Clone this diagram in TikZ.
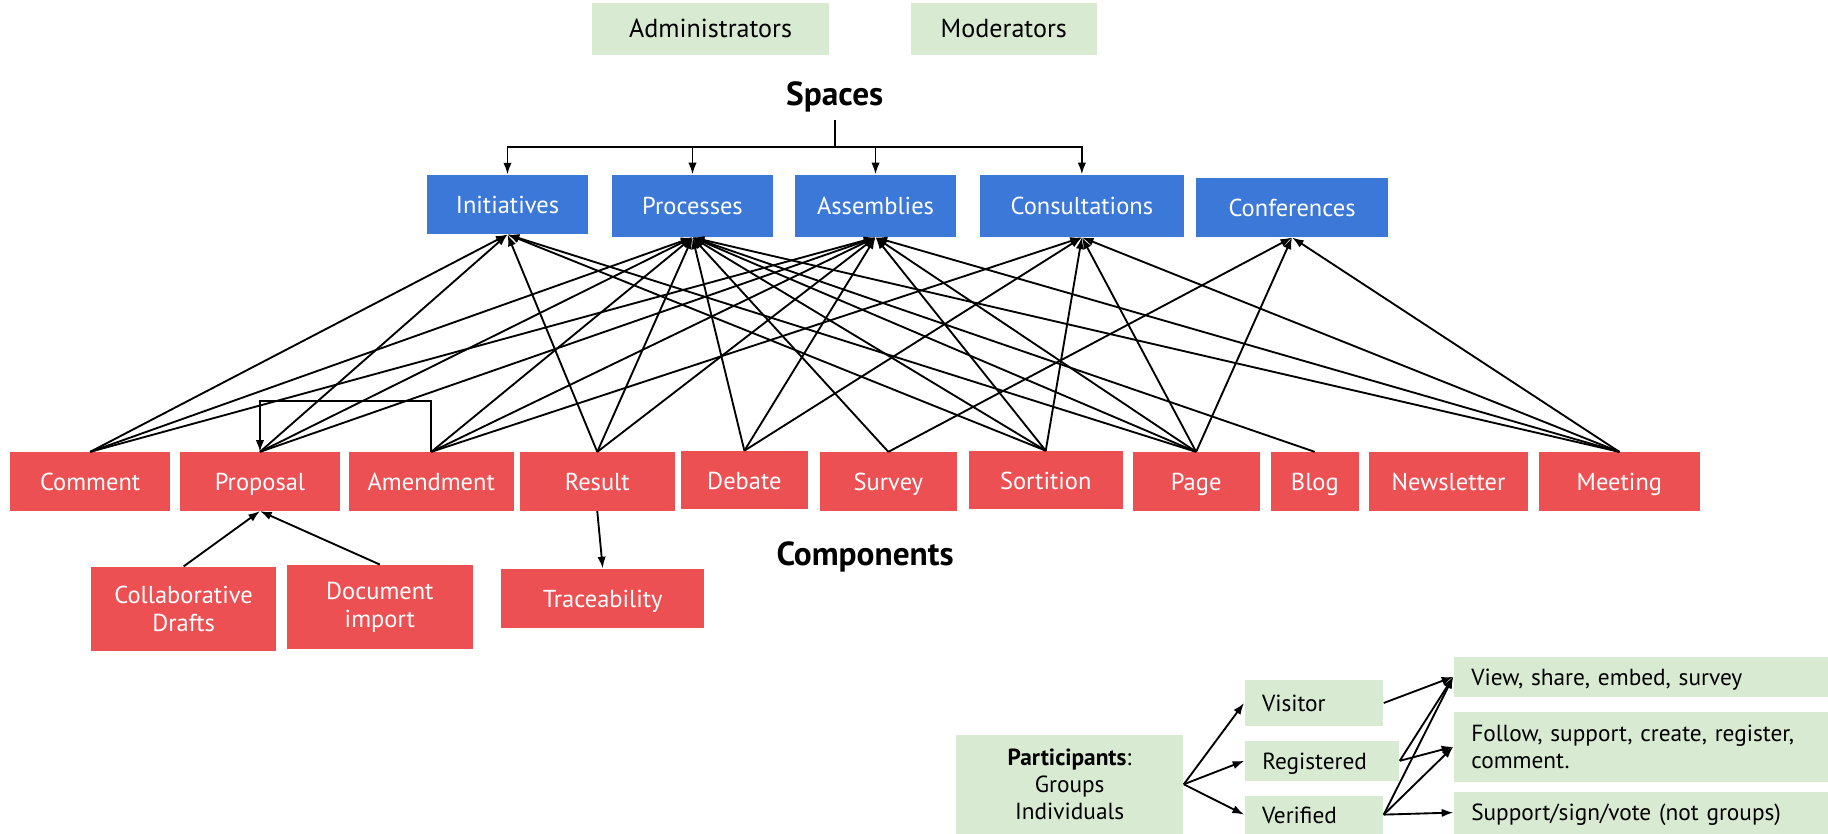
\documentclass[tikz,border=0pt]{standalone}
\usepackage{fontspec}
\setmainfont{PT Sans}
\usetikzlibrary{arrows.meta}
\definecolor{spaceblue}{RGB}{60,120,216}
\definecolor{compred}{RGB}{237,80,82}
\definecolor{rolegreen}{RGB}{217,234,211}

\begin{document}
\begin{tikzpicture}[x=0.5pt,y=-0.5pt,
    box/.style={inner sep=0pt,align=center,text height=7.6pt,text depth=0pt,font=\fontsize{10.5}{12}\selectfont},
    multi/.style={text height=,text depth=},
    space/.style={box,fill=spaceblue,text=white},
    comp/.style={box,fill=compred,text=white,minimum height=25pt},
    role/.style={box,fill=rolegreen},
    rolel/.style={role,align=left,inner xsep=7.5pt,text height=7.2pt,font=\fontsize{10}{11.5}\selectfont},
    title/.style={font=\bfseries\fontsize{14.3}{16}\selectfont},
    arr/.style={-{Latex[length=5pt,width=3.6pt]},line width=0.8pt}]
    \useasboundingbox (0,0) rectangle (1568,715);
    \node[role,font=\fontsize{11.2}{13}\selectfont,minimum width=101.5pt,minimum height=22.3pt] (admin) at (609.5,25){Administrators};
    \node[role,font=\fontsize{11.2}{13}\selectfont,minimum width=80pt,minimum height=22.3pt] (moder) at (861,25){Moderators};
    \node[title] (spaces) at (716,83){Spaces};
    \node[space,minimum width=69.3pt,minimum height=25.35pt] (init) at (435.3,175.4){Initiatives};
    \node[space,minimum width=69pt,minimum height=26.65pt] (proc) at (594,176.6){Processes};
    \node[space,minimum width=69pt,minimum height=26.65pt] (asm) at (751,176.6){Assemblies};
    \node[space,minimum width=87.35pt,minimum height=26.65pt] (cons) at (928,176.6){Consultations};
    \node[space,minimum width=82.3pt,minimum height=25.3pt] (conf) at (1108.3,178){Conferences};
    \node[comp,minimum width=68.9pt] (comment) at (77.3,413){Comment};
    \node[comp,minimum width=69pt] (proposal) at (223,413){Proposal};
    \node[comp,minimum width=70.85pt] (amendment) at (369.9,413){Amendment};
    \node[comp,minimum width=66.3pt] (result) at (512.3,413){Result};
    \node[comp,minimum width=54.5pt] (debate) at (638.5,412){Debate};
    \node[comp,minimum width=59pt] (survey) at (762,413){Survey};
    \node[comp,minimum width=66pt] (sortition) at (897,412){Sortition};
    \node[comp,minimum width=54.55pt] (page) at (1026,413){Page};
    \node[comp,minimum width=37.75pt] (blog) at (1127.8,413){Blog};
    \node[comp,minimum width=68.5pt] (newsletter) at (1242.5,413){Newsletter};
    \node[comp,minimum width=69pt] (meeting) at (1389,413){Meeting};
    \node[title] (components) at (742,478){Components};
    \node[comp,multi,minimum width=79.3pt,minimum height=36pt] (collab) at (157.5,522.25){Collaborative\\Drafts};
    \node[comp,multi,minimum width=79.6pt,minimum height=35.85pt] (docimport) at (325.8,520.5){Document\\import};
    \node[comp,minimum width=87pt,minimum height=25.2pt] (trace) at (517,513.2){Traceability};
    \node[role,multi,font=\fontsize{10}{11.5}\selectfont,minimum width=97.5pt,minimum height=42.25pt] (partic) at (917.5,672.75){\textbf{Participants}:\\Groups\\Individuals};
    \node[rolel,text width=44.5pt,minimum height=19.5pt] (visitor) at (1127,603){Visitor};
    \node[rolel,text width=51.25pt,minimum height=17pt] (registered) at (1134,652.6){Registered};
    \node[rolel,text width=44.5pt,minimum height=16.25pt] (verified) at (1127,698.75){Verified};
    \node[rolel,text width=145.5pt,minimum height=17.15pt] (view) at (1407.5,580.5){View, share, embed, survey};
    \node[rolel,multi,text width=145.5pt,minimum height=30pt] (follow) at (1407.5,640.5){Follow, support, create, register,\\comment.};
    \node[rolel,text width=145.5pt,minimum height=18pt] (support) at (1407.5,697){Support/sign/vote (not groups)};

    \coordinate (bar) at (716,126);
    \draw[line width=0.8pt] (spaces.south) -- (bar);
    \foreach \s in {init,proc,asm,cons} \draw[arr] (bar) -| (\s.north);
    \foreach \c/\ss in {comment/{init,proc,asm},proposal/{init,proc,asm},amendment/{proc,asm,cons},
        result/{init,proc,asm},debate/{proc,asm,cons},survey/{proc,conf},sortition/{init,proc,asm,cons},
        page/{init,proc,asm,cons,conf},blog/{proc},meeting/{proc,asm,cons,conf}}
        {\foreach \s in \ss \draw[arr] (\c.north) -- (\s.south);}
    \draw[arr] (amendment.north) -- ++(0,-43.5) -| (proposal.north);
    \draw[arr] (collab.north) -- (proposal.south);
    \draw[arr] (docimport.north) -- (proposal.south);
    \draw[arr] (result.south) -- (trace.north);
    \foreach \s in {visitor,registered,verified} \draw[arr] (partic.east) -- (\s.west);
    \draw[arr] (visitor.east) -- (view.west);
    \foreach \s in {view,follow} \draw[arr] (registered.east) -- (\s.west);
    \foreach \s in {view,follow,support} \draw[arr] (verified.east) -- (\s.west);
\end{tikzpicture}
\end{document}
